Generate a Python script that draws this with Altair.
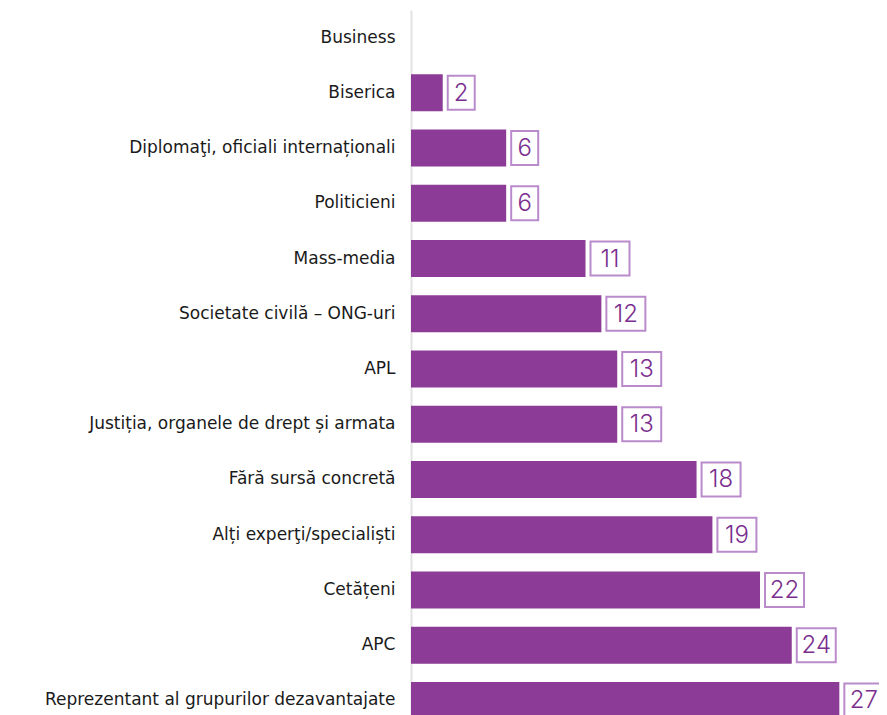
import altair as alt
import pandas as pd

categories = [
    "Business",
    "Biserica",
    "Diplomaţi, oficiali internaționali",
    "Politicieni",
    "Mass-media",
    "Societate civilă – ONG-uri",
    "APL",
    "Justiția, organele de drept și armata",
    "Fără sursă concretă",
    "Alți experţi/specialiști",
    "Cetățeni",
    "APC",
    "Reprezentant al grupurilor dezavantajate",
]
values = [0, 2, 6, 6, 11, 12, 13, 13, 18, 19, 22, 24, 27]

df = pd.DataFrame({"cat": categories, "v": values})

BAR = "#8C3B97"
TXT = "#7A2E8E"
BOX = "#B98BCB"
FONT = "DejaVu Sans"
NUMFONT = "Inter"

y = alt.Y(
    "cat:N",
    sort=categories,
    title=None,
    scale=alt.Scale(paddingInner=0.33, paddingOuter=0.165),
    axis=alt.Axis(
        ticks=False,
        grid=False,
        domain=True,
        domainColor="#e3e3e3",
        domainWidth=2,
        labelFont=FONT,
        labelFontSize=17,
        labelColor="#1a1a1a",
        labelPadding=16,
        labelLimit=500,
    ),
)
xscale = alt.Scale(domain=[0, 29.5], nice=False, zero=True)
x = alt.X("v:Q", scale=xscale, axis=None)

bars = alt.Chart(df).mark_bar(color=BAR).encode(y=y, x=x)

lab = alt.Chart(df).transform_filter("datum.v > 0")

box1 = lab.transform_filter("datum.v < 10").mark_bar(
    fill="white", stroke=BOX, strokeWidth=2, size=34, xOffset=5, x2Offset=32
).encode(y=y, x=x, x2="v:Q")
box2 = lab.transform_filter("datum.v >= 10").mark_bar(
    fill="white", stroke=BOX, strokeWidth=2, size=34, xOffset=5, x2Offset=44
).encode(y=y, x=x, x2="v:Q")

txt1 = lab.transform_filter("datum.v < 10").mark_text(
    align="center", baseline="middle", dx=18.5, dy=1, fontSize=24, font=NUMFONT,
    fontWeight=300, color=TXT
).encode(y=y, x=x, text="v:Q")
txt2 = lab.transform_filter("datum.v >= 10").mark_text(
    align="center", baseline="middle", dx=24.5, dy=1, fontSize=24, font=NUMFONT,
    fontWeight=300, color=TXT
).encode(y=y, x=x, text="v:Q")

chart = (
    alt.layer(bars, box1, box2, txt1, txt2)
    .properties(
        width=468,
        height=718,
        autosize=alt.AutoSizeParams(type="none"),
        padding={"left": 403, "top": 2, "right": 0, "bottom": 0},
    )
    .configure_view(stroke=None)
)

chart.save("out.html", embed_options={"renderer": "svg", "actions": False})
